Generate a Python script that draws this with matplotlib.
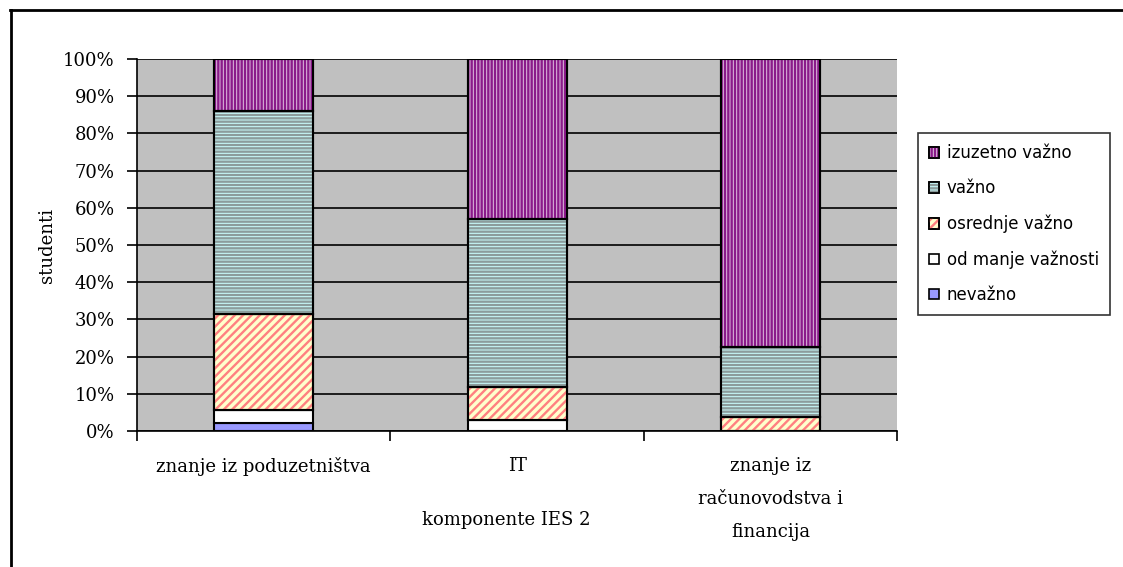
import matplotlib.pyplot as plt
import numpy as np
from matplotlib.patches import Patch
from matplotlib.lines import Line2D

plt.rcParams['hatch.linewidth'] = 1.7

categories = ["znanje iz poduzetništva", "IT", "znanje iz\nračunovodstva i\nfinancija"]
series_names = ["nevažno", "od manje važnosti", "osrednje važno", "važno", "izuzetno važno"]
nevazno = [2.0, 0.0, 0.0]
od_manje = [3.5, 3.0, 0.0]
osrednje = [26.0, 8.8, 3.8]
vazno = [54.5, 45.2, 18.7]
izuzetno = [14.0, 43.0, 77.5]
values = [nevazno, od_manje, osrednje, vazno, izuzetno]

face = ["#9999FF", "#FFFFFF", "#FFFFCC", "#CCFFFF", "#E0C0E0"]
hatch_col = [None, None, "#FF8080", "#8C9C9C", "#8A1A8A"]
hatches = [None, None, "////", "-----", "|||||"]

serif = "DejaVu Serif"

fig = plt.figure(figsize=(11.23, 5.67), dpi=100)
ax = fig.add_axes([0.122, 0.240, 0.677, 0.656])
ax.set_facecolor("#C0C0C0")

x = np.arange(len(categories))
width = 0.39
bottom = np.zeros(len(categories))
for vals, fc, hc, h in zip(values, face, hatch_col, hatches):
    vals = np.array(vals)
    ax.bar(x, vals, width, bottom=bottom, color=fc, edgecolor="black", linewidth=1.5, zorder=3)
    if h:
        ax.bar(x, vals, width, bottom=bottom, color="none", edgecolor=hc, linewidth=0, hatch=h, zorder=3.5)
        ax.bar(x, vals, width, bottom=bottom, color="none", edgecolor="black", linewidth=1.5, zorder=4)
    bottom += vals

ax.set_ylim(0, 100)
ax.set_xlim(-0.5, 2.5)
ax.set_yticks(np.arange(0, 101, 10))
ax.set_yticklabels([f"{v}%" for v in range(0, 101, 10)], fontsize=13, family=serif)
ax.yaxis.grid(True, color="black", linewidth=1.2, zorder=1)
ax.set_axisbelow(True)
ax.set_xticks([-0.5, 0.5, 1.5, 2.5])
ax.set_xticklabels([])
ax.set_xticks(x, minor=True)
ax.set_xticklabels(categories, minor=True, fontsize=13, family=serif, va="top", linespacing=2.05)
ax.tick_params(axis="x", which="minor", length=0, pad=19)
ax.tick_params(axis="x", which="major", length=7, width=1.2, direction="out")
ax.tick_params(axis="y", length=7, width=1.2, direction="out", pad=9)
for s in ["top", "right"]:
    ax.spines[s].set_visible(False)
ax.spines["left"].set_linewidth(1.2)
ax.spines["bottom"].set_linewidth(1.2)

ax.set_xlabel("komponente IES 2", fontsize=13, family=serif, labelpad=0)
ax.xaxis.set_label_coords(0.486, -0.215)
ax.set_ylabel("studenti", fontsize=13, family=serif)
ax.yaxis.set_label_coords(-0.107, 0.5)

handles = []
for fc, hc, h in zip(face, hatch_col, hatches):
    base = Patch(facecolor=fc, edgecolor="black", linewidth=1.2)
    if h:
        handles.append((base, Patch(facecolor="none", edgecolor=hc, hatch=h, linewidth=0),
                        Patch(facecolor="none", edgecolor="black", linewidth=1.2)))
    else:
        handles.append(base)
leg = fig.legend(handles[::-1], series_names[::-1], loc="upper left",
                 bbox_to_anchor=(918 / 1123, 1 - 133 / 567), frameon=True, fancybox=False,
                 prop={"family": "DejaVu Sans", "size": 12}, handlelength=0.6, handleheight=0.6,
                 handletextpad=0.45, labelspacing=1.03, borderpad=0.68, borderaxespad=0)
leg.get_frame().set_edgecolor("black")
leg.get_frame().set_linewidth(1.2)

# outer chart frame
fig.add_artist(Line2D([10 / 1123, 1.0], [1 - 10 / 567] * 2, color="black", linewidth=2, transform=fig.transFigure))
fig.add_artist(Line2D([11 / 1123] * 2, [0, 1 - 10 / 567], color="black", linewidth=2, transform=fig.transFigure))

fig.savefig("out.png", dpi=100)
